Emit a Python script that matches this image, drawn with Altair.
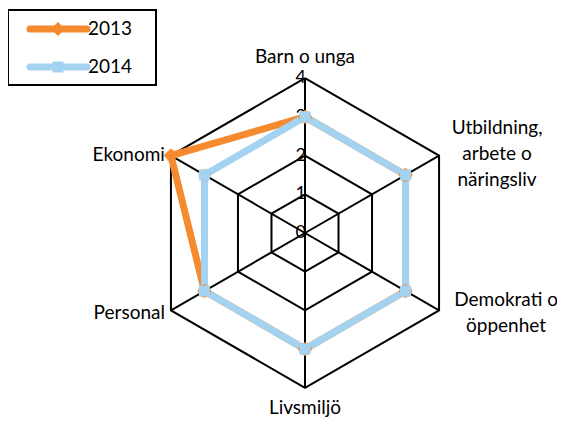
import math
import altair as alt
import pandas as pd

# ---- data ----
categories = ["Barn o unga", "Utbildning,\narbete o\nnäringsliv", "Demokrati o\nöppenhet",
              "Livsmiljö", "Personal", "Ekonomi"]
series_names = ["2013", "2014"]
values_2013 = [3, 3, 3, 3, 3, 4]
values_2014 = [3, 3, 3, 3, 3, 3]
grid_levels = [1, 2, 3, 4]
tick_labels = ["0", "1", "2", "3", "4"]
colors = ["#F58A2E", "#A3D3F0"]

n = len(categories)

# series rows (closed polygon)
srows = []
for s, vals in zip(series_names, [values_2013, values_2014]):
    for i in range(n + 1):
        srows.append({"series": s, "idx": i % n, "order": i, "value": vals[i % n]})
series_df = pd.DataFrame(srows)
point_df = series_df[series_df["order"] < n]

grows = []
for lv in grid_levels:
    for i in range(n + 1):
        grows.append({"level": lv, "idx": i % n, "order": i, "value": lv})
grid_df = pd.DataFrame(grows)

spoke_df = pd.DataFrame([{"idx": i, "value": v} for i in range(n) for v in (0, grid_levels[-1])])
tick_df = pd.DataFrame({"label": tick_labels, "value": [int(t) for t in tick_labels], "idx": 0})
cat_df = pd.DataFrame({"cat": categories, "idx": list(range(n)), "value": grid_levels[-1]})

# ---- geometry / scales ----
W, H = 549, 410
CX, CY = 297, 225
U = 38.7
xscale = alt.Scale(domain=[-CX / U, (W - CX) / U], nice=False, zero=False)
yscale = alt.Scale(domain=[-(H - CY) / U, CY / U], nice=False, zero=False)

calc = dict(px=f"datum.value * sin(datum.idx * PI / {n / 2})",
            py=f"datum.value * cos(datum.idx * PI / {n / 2})")

X = alt.X("px:Q", scale=xscale, axis=None)
Y = alt.Y("py:Q", scale=yscale, axis=None)

FONT = "Lato"

grid = alt.Chart(grid_df).transform_calculate(**calc).mark_line(
    color="black", strokeWidth=2
).encode(x=X, y=Y, detail="level:N", order="order:Q")

spokes = alt.Chart(spoke_df).transform_calculate(**calc).mark_line(
    color="black", strokeWidth=2
).encode(x=X, y=Y, detail="idx:N")

ticks = alt.Chart(tick_df).transform_calculate(**calc).mark_text(
    align="right", baseline="middle", dx=1, fontSize=18, font=FONT, color="black"
).encode(x=X, y=Y, text="label:N")

color_scale = alt.Scale(domain=series_names, range=colors)
shape_scale = alt.Scale(domain=series_names, range=["diamond", "square"])
size_scale = alt.Scale(domain=series_names, range=[200, 120])

lines = alt.Chart(series_df).transform_calculate(**calc).mark_line(
    strokeWidth=7, strokeJoin="miter"
).encode(x=X, y=Y, color=alt.Color("series:N", scale=color_scale, legend=None),
         detail="series:N", order="order:Q")

halo = alt.Chart(point_df).transform_calculate(**calc).mark_point(
    filled=True, opacity=0.25, shape="circle", color=colors[0]
).encode(x=X, y=Y, size=alt.value(180))

points = alt.Chart(point_df).transform_calculate(**calc).mark_point(
    filled=True, opacity=1
).encode(x=X, y=Y,
         color=alt.Color("series:N", scale=color_scale, legend=None),
         shape=alt.Shape("series:N", scale=shape_scale, legend=None),
         size=alt.Size("series:N", scale=size_scale, legend=None))

# category labels
label_style = [
    dict(align="center", dx=0, dy=-21),
    dict(align="center", dx=58, dy=-28),
    dict(align="center", dx=67, dy=-10),
    dict(align="center", dx=0, dy=20),
    dict(align="right", dx=-6, dy=3),
    dict(align="right", dx=-6, dy=-1),
]
cat_layers = []
for i, st in enumerate(label_style):
    cat_layers.append(
        alt.Chart(cat_df).transform_filter(f"datum.idx == {i}").transform_calculate(**calc).mark_text(
            baseline="middle", fontSize=19, font=FONT, color="black", lineBreak="\n",
            lineHeight=26, **st
        ).encode(x=X, y=Y, text="cat:N")
    )

# legend (drawn)
legend_box = alt.Chart(pd.DataFrame({"a": [0]})).mark_rect(
    fill="white", stroke="black", strokeWidth=2
).encode(x=alt.value(0), x2=alt.value(148), y=alt.value(2), y2=alt.value(77))

legend_layers = [legend_box]
for s, c, shp, sz, yy in zip(series_names, colors, ["diamond", "square"], [200, 120], [21, 59]):
    legend_layers.append(alt.Chart(pd.DataFrame({"a": [0]})).mark_rule(
        color=c, strokeWidth=7, strokeCap="round").encode(
        x=alt.value(22), x2=alt.value(79), y=alt.value(yy)))
    legend_layers.append(alt.Chart(pd.DataFrame({"a": [0]})).mark_point(
        filled=True, color=c, shape=shp, opacity=1).encode(
        x=alt.value(50), y=alt.value(yy), size=alt.value(sz)))
    legend_layers.append(alt.Chart(pd.DataFrame({"a": [0]})).mark_text(
        align="left", baseline="middle", fontSize=19, font=FONT, color="black").encode(
        x=alt.value(80), y=alt.value(yy), text=alt.value(s)))

chart = alt.layer(
    grid, spokes, ticks, lines, halo, points, *cat_layers, *legend_layers
).properties(
    width=W, height=H, autosize=alt.AutoSizeParams(type="none"), padding=0,
    background="white"
).configure_view(stroke=None)

chart.save("out.html", embed_options={"renderer": "svg", "actions": False})
